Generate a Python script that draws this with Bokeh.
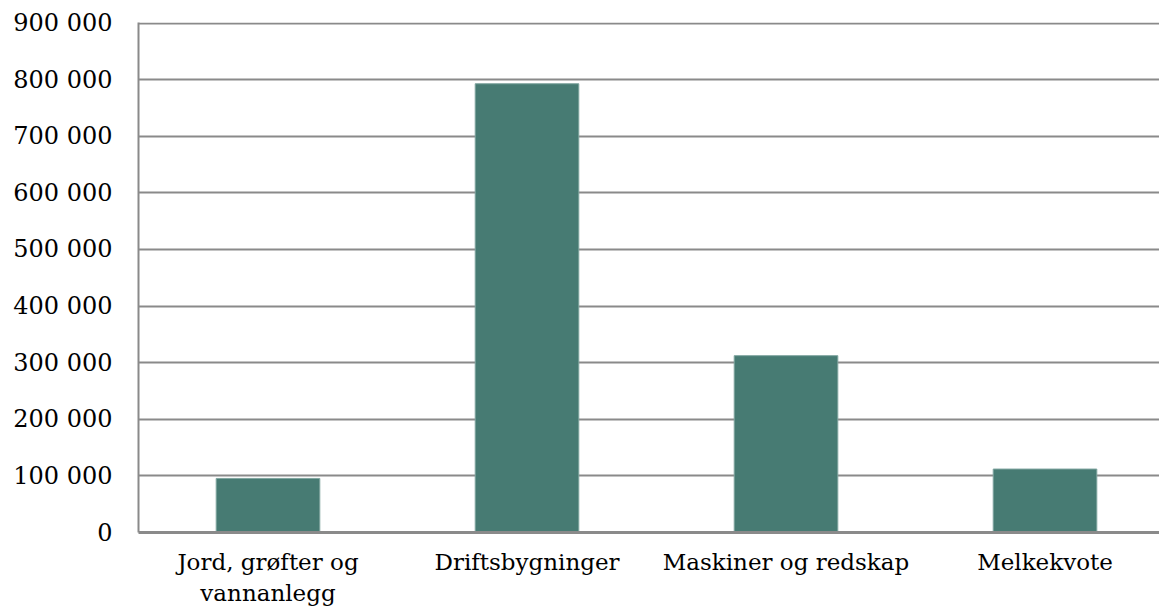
from bokeh.plotting import figure
from bokeh.models import Range1d, FixedTicker, ColumnDataSource
from bokeh.embed import file_html
from bokeh.resources import INLINE

categories = ["Jord, grøfter og\nvannanlegg", "Driftsbygninger", "Maskiner og redskap", "Melkekvote"]
values = [95500, 792800, 312400, 112100]
y_ticks = [0, 100000, 200000, 300000, 400000, 500000, 600000, 700000, 800000, 900000]
y_tick_labels = ["0", "100 000", "200 000", "300 000", "400 000", "500 000",
                 "600 000", "700 000", "800 000", "900 000"]

FONT = "DejaVu Serif"
GRID = "#8a8a8a"

x_pos = [i + 0.5 for i in range(len(categories))]
src = ColumnDataSource(data=dict(x=x_pos, val=values))

p = figure(x_range=Range1d(0, 3.942),
           y_range=Range1d(0, 901000),
           width=1159, height=608,
           output_backend="svg", toolbar_location=None,
           min_border_left=138, min_border_right=0,
           min_border_top=22, min_border_bottom=76)

p.vbar(x="x", top="val", width=0.4, source=src,
       fill_color="#477B73", line_color="#7fa59f", line_width=1)

p.outline_line_color = None
p.background_fill_color = "white"
p.border_fill_color = "white"

p.xgrid.grid_line_color = None
p.xaxis.ticker = FixedTicker(ticks=x_pos)
p.xaxis.major_label_overrides = {x: c for x, c in zip(x_pos, categories)}
p.yaxis.ticker = FixedTicker(ticks=y_ticks)
p.yaxis.major_label_overrides = {t: l for t, l in zip(y_ticks, y_tick_labels)}
p.ygrid.grid_line_color = GRID
p.ygrid.grid_line_width = 2

for ax in (p.xaxis, p.yaxis):
    ax.major_tick_line_color = None
    ax.minor_tick_line_color = None
    ax.major_tick_in = 0
    ax.major_tick_out = 0
    ax.major_label_text_font = FONT
    ax.major_label_text_color = "#000000"
    ax.axis_line_color = GRID

p.yaxis.major_label_text_font_size = "24px"
p.xaxis.major_label_text_font_size = "23px"
p.yaxis.axis_line_width = 2
p.yaxis.major_label_standoff = 26
p.xaxis.axis_line_width = 3
p.xaxis.major_label_standoff = 16
p.xaxis.major_label_text_line_height = 1.2

open("out.html", "w").write(file_html(p, INLINE))
